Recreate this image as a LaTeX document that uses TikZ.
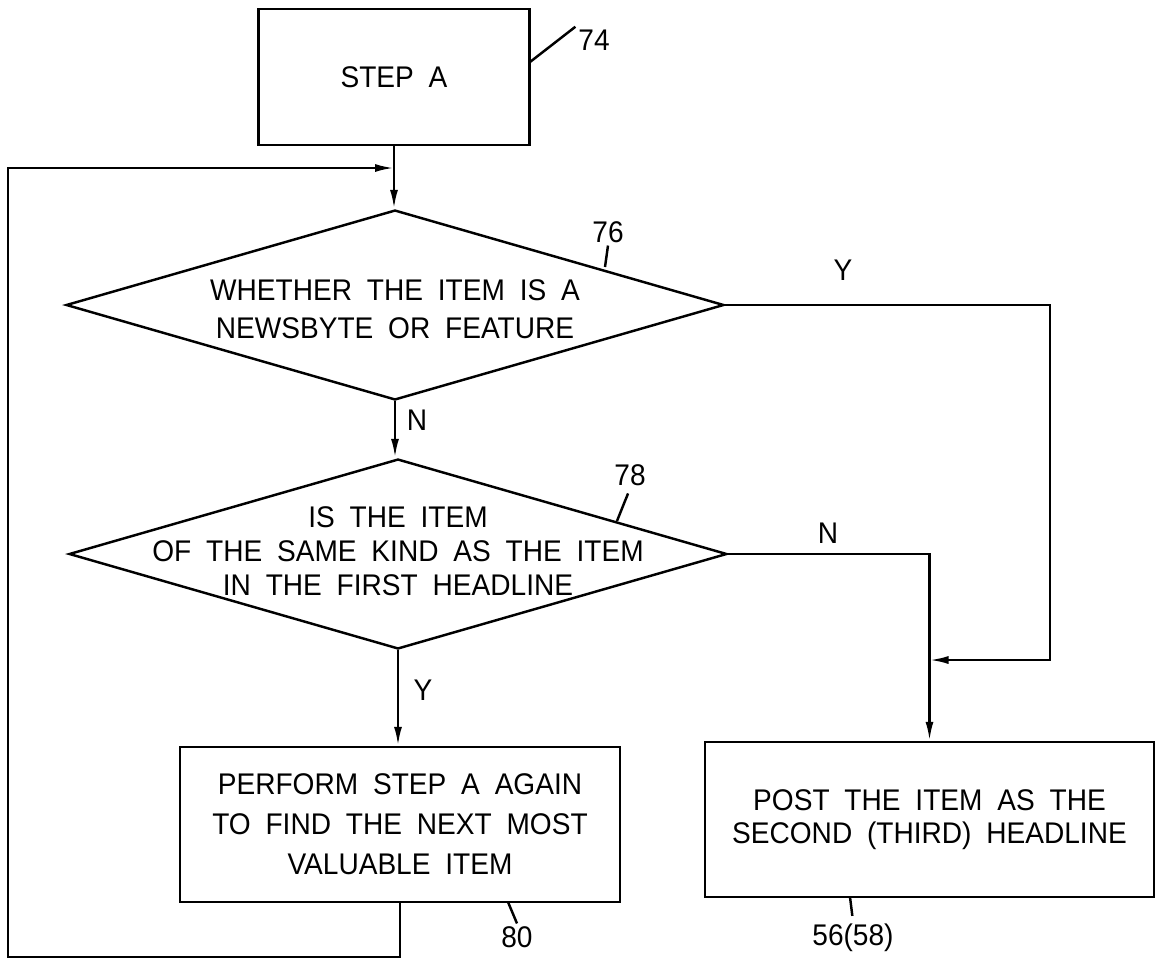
\documentclass[tikz,border=0pt]{standalone}
\usepackage{fontspec}
\setmainfont{Liberation Sans}[WordSpace=1.9, FakeStretch=0.94]
\usetikzlibrary{
    arrows.meta,
    shapes.geometric
}

\begin{document}
\begin{tikzpicture}[x=0.02cm, y=-0.02cm, line width=1.4pt,
    font=\fontsize{17}{20}\selectfont,
    flow/.style={-{Latex[length=0.38cm,width=0.16cm]}},
    box/.style={draw, align=center},
    decision/.style={draw, diamond, minimum width=13.16cm, minimum height=3.8cm, inner sep=0pt},
    refnum/.style={inner sep=1pt}]
\useasboundingbox (0,0) rectangle (1157,961);

% Step A
\node[box, minimum width=5.42cm, minimum height=2.72cm] (stepa) at (394,77) {STEP A};
\node[refnum] (n74) at (594,40) {74};
\coordinate (t74) at (530,62);
\draw (t74) -- (n74.north west);

% First decision
\node[decision] (d1) at (395,305) {};
\node[align=center, font=\fontsize{17}{21.5}\selectfont] (d1txt) at (395,309) {WHETHER THE ITEM IS A\\NEWSBYTE OR FEATURE};
\node[refnum] (n76) at (608,232) {76};
\coordinate (t76) at (605,267);
\draw (t76) -- (n76.south);

% Second decision
\node[decision] (d2) at (398,554) {};
\node[align=center, font=\fontsize{17}{19.3}\selectfont] (d2txt) at (398,551) {IS THE ITEM\\OF THE SAME KIND AS THE ITEM\\IN THE FIRST HEADLINE};
\node[refnum] (n78) at (630,475) {78};
\coordinate (t78) at (617,521);
\draw[shorten >=3pt] (t78) -- (n78.south);

% Step A again
\node[box, minimum width=8.8cm, minimum height=3.1cm, font=\fontsize{17}{22.7}\selectfont] (act) at (400,824.5) {PERFORM STEP A AGAIN\\TO FIND THE NEXT MOST\\VALUABLE ITEM};
\node[refnum] (n80) at (517,937) {80};
\coordinate (t80) at (508,902);
\draw (t80) -- (n80.north);

% Post headline
\node[box, minimum width=8.98cm, minimum height=3.1cm, font=\fontsize{17}{18.7}\selectfont] (post) at (929.5,819.5) {POST THE ITEM AS THE\\SECOND (THIRD) HEADLINE};
\node[refnum] (n56) at (853,938) {56(58)};
\coordinate (t56) at (850,897);
\draw[shorten >=3pt] (t56) -- (n56.north);

% Flow lines
\coordinate (loopin) at (394,168);
\coordinate (loopcorner) at (8,957);
\coordinate (ycorner) at (1050,305);
\coordinate (yjoin) at (929.5,660);
\draw[flow] (stepa.south) -- (stepa.south |- d1.north);
\draw[flow] (act.south) |- (loopcorner) |- (loopin);
\draw[flow] (d1.south) -- (d1.south |- d2.north);
\draw[flow] (d2.south) -- (d2.south |- act.north);
\draw[flow] (d1.east) -- (ycorner) |- (yjoin);
\draw[flow] (d2.east) -| (post.north);

% Branch labels
\node (yes1) at (843,270) {Y};
\node (no1) at (417,420) {N};
\node (no2) at (828,533) {N};
\node (yes2) at (423,690) {Y};
\end{tikzpicture}
\end{document}
